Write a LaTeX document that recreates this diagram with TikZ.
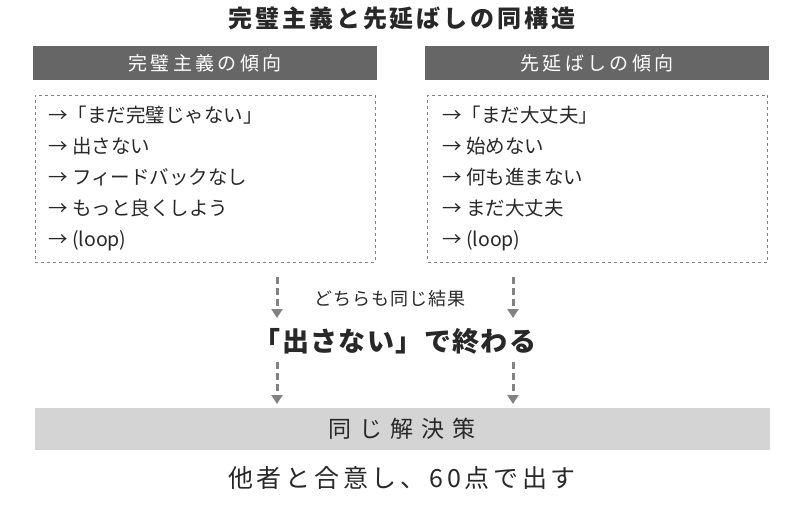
\documentclass[tikz,border=0pt]{standalone}
\usepackage{fontspec}
\setmainfont{Noto Sans CJK JP}
\usetikzlibrary{positioning,arrows.meta}
\definecolor{pfDark}{RGB}{102,102,102}
\definecolor{pfLight}{RGB}{212,212,212}
\definecolor{pfText}{RGB}{40,40,40}
\definecolor{pfArrow}{RGB}{130,130,130}
\newcommand{\spaced}[1]{\addfontfeature{LetterSpace=#1}}
\tikzset{
    base/.style={align=center, text=pfText, inner sep=0pt},
    header/.style={base, fill=pfDark, text=white, minimum width=344pt, minimum height=34pt, font=\fontsize{19}{21}\selectfont\spaced{18}},
    listbox/.style={base, draw=pfArrow, dashed, thick, minimum width=340pt, minimum height=167pt},
    item/.style={base, align=left, anchor=west, font=\fontsize{19.5}{31}\selectfont},
    flow/.style={-{Triangle[width=11pt,length=9pt]}, line width=3pt, dash pattern=on 7pt off 4pt, color=pfArrow}
}
\begin{document}
\begin{tikzpicture}[x=1pt,y=-1pt]
  \useasboundingbox (0,0) rectangle (800,507);
  % Title
  \node[base, font=\bfseries\fontsize{24}{26}\selectfont\spaced{12}] (title) at (402,18) {完璧主義と先延ばしの同構造};
  % Headers
  \node[header] (hL) at (205,63) {完璧主義の傾向};
  \node[header] (hR) at (597,63) {先延ばしの傾向};
  % Lists
  \node[listbox] (bL) at (205,178.5) {};
  \node[listbox] (bR) at (597.5,178.5) {};
  \node[item] (lL) at (48,178) {→「まだ完璧じゃない」\\→ 出さない\\→ フィードバックなし\\→ もっと良くしよう\\→ (loop)};
  \node[item] (lR) at (442,178) {→「まだ大丈夫」\\→ 始めない\\→ 何も進まない\\→ まだ大丈夫\\→ (loop)};
  % Result
  \coordinate (aL1) at (277,277); \coordinate (aL2) at (277,318);
  \coordinate (aR1) at (513,277); \coordinate (aR2) at (513,318);
  \draw[flow] (aL1) -- (aL2);
  \draw[flow] (aR1) -- (aR2);
  \node[base, font=\fontsize{18}{20}\selectfont\spaced{5}] (same) at (390,299) {どちらも同じ結果};
  \node[base, font=\bfseries\fontsize{27}{29}\selectfont\spaced{5}] (end) at (395,341) {「出さない」で終わる};
  \coordinate (bL1) at (277,362); \coordinate (bL2) at (277,404);
  \coordinate (bR1) at (513,362); \coordinate (bR2) at (513,404);
  \draw[flow] (bL1) -- (bL2);
  \draw[flow] (bR1) -- (bR2);
  % Solution
  \node[base, fill=pfLight, minimum width=735pt, minimum height=42pt, font=\fontsize{23}{25}\selectfont\spaced{35}] (sol) at (402,429) {同じ解決策};
  \node[base, font=\fontsize{25}{27}\selectfont\spaced{15}] (act) at (402,478) {他者と合意し、60点で出す};
\end{tikzpicture}
\end{document}
